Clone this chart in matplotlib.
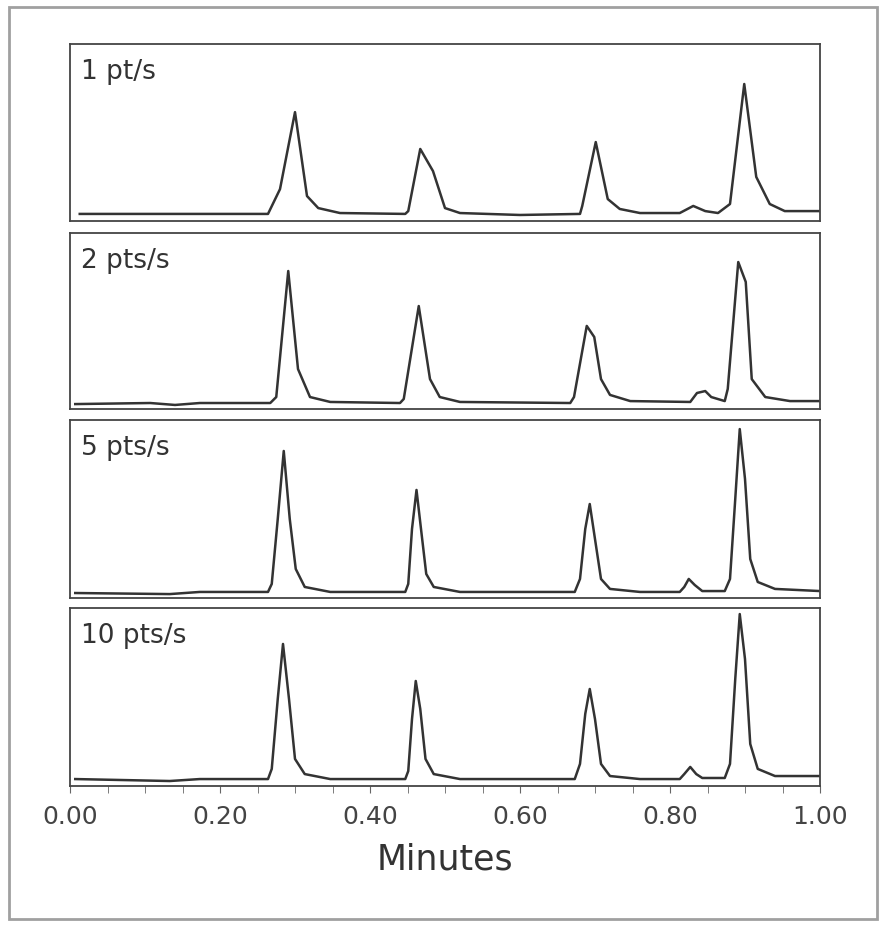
import matplotlib
matplotlib.use("Agg")
import matplotlib.pyplot as plt
from matplotlib.patches import Rectangle
from matplotlib.ticker import MultipleLocator

# Trace points (minutes, relative signal 0..1)
labels = ["1 pt/s", "2 pts/s", "5 pts/s", "10 pts/s"]

x1 = [0.013, 0.173, 0.264, 0.280, 0.300, 0.316, 0.331, 0.360, 0.447, 0.451,
      0.467, 0.484, 0.500, 0.520, 0.600, 0.680, 0.683, 0.701, 0.717, 0.733,
      0.760, 0.813, 0.831, 0.847, 0.864, 0.880, 0.899, 0.915, 0.933, 0.953, 1.0]
y1 = [0.040, 0.040, 0.040, 0.180, 0.615, 0.141, 0.073, 0.045, 0.040, 0.056,
      0.407, 0.282, 0.073, 0.045, 0.034, 0.040, 0.085, 0.446, 0.124, 0.068,
      0.045, 0.045, 0.085, 0.056, 0.045, 0.096, 0.774, 0.249, 0.096, 0.056, 0.056]

x2 = [0.007, 0.107, 0.140, 0.173, 0.267, 0.275, 0.291, 0.304, 0.320, 0.347,
      0.440, 0.445, 0.465, 0.480, 0.493, 0.520, 0.667, 0.672, 0.689, 0.699,
      0.708, 0.720, 0.747, 0.827, 0.836, 0.847, 0.855, 0.873, 0.877, 0.891,
      0.901, 0.909, 0.927, 0.960, 1.0]
y2 = [0.028, 0.034, 0.023, 0.034, 0.034, 0.068, 0.784, 0.227, 0.068, 0.040,
      0.034, 0.057, 0.585, 0.170, 0.068, 0.040, 0.034, 0.068, 0.472, 0.409,
      0.170, 0.080, 0.045, 0.040, 0.091, 0.102, 0.068, 0.045, 0.114, 0.835,
      0.722, 0.170, 0.068, 0.045, 0.045]

x3 = [0.007, 0.133, 0.173, 0.264, 0.269, 0.277, 0.285, 0.293, 0.301, 0.313,
      0.347, 0.447, 0.451, 0.456, 0.462, 0.468, 0.475, 0.485, 0.520, 0.673,
      0.680, 0.687, 0.693, 0.700, 0.708, 0.720, 0.760, 0.813, 0.819, 0.825,
      0.833, 0.843, 0.873, 0.880, 0.887, 0.893, 0.900, 0.907, 0.917, 0.940, 1.0]
y3 = [0.028, 0.022, 0.034, 0.034, 0.079, 0.444, 0.826, 0.444, 0.163, 0.062,
      0.034, 0.034, 0.079, 0.388, 0.607, 0.388, 0.135, 0.062, 0.034, 0.034,
      0.107, 0.388, 0.528, 0.331, 0.107, 0.051, 0.034, 0.034, 0.062, 0.107,
      0.073, 0.039, 0.039, 0.107, 0.556, 0.949, 0.669, 0.219, 0.090, 0.051, 0.039]

x4 = [0.007, 0.133, 0.173, 0.264, 0.269, 0.277, 0.284, 0.292, 0.300, 0.313,
      0.347, 0.447, 0.451, 0.456, 0.461, 0.467, 0.474, 0.485, 0.520, 0.673,
      0.680, 0.687, 0.693, 0.700, 0.708, 0.720, 0.760, 0.813, 0.819, 0.827,
      0.835, 0.843, 0.873, 0.880, 0.887, 0.893, 0.900, 0.907, 0.917, 0.940, 1.0]
y4 = [0.039, 0.028, 0.039, 0.039, 0.096, 0.489, 0.798, 0.489, 0.152, 0.067,
      0.039, 0.039, 0.084, 0.376, 0.590, 0.433, 0.152, 0.067, 0.039, 0.039,
      0.124, 0.405, 0.545, 0.376, 0.124, 0.056, 0.039, 0.039, 0.067, 0.107,
      0.067, 0.045, 0.045, 0.124, 0.601, 0.966, 0.713, 0.236, 0.096, 0.056, 0.056]

series = [(x1, y1), (x2, y2), (x3, y3), (x4, y4)]

fig = plt.figure(figsize=(8.86, 9.28), dpi=100)
fig.patches.append(Rectangle((9 / 886, 8 / 928), 868 / 886, 912 / 928,
                             transform=fig.transFigure, fill=False,
                             edgecolor="#a0a0a0", linewidth=2))

left, width = 70 / 886, 750 / 886
tops = [45, 234, 421, 609]
bottoms = [222, 410, 599, 787]
line_color = "#333333"

for i, (xs, ys) in enumerate(series):
    ax = fig.add_axes([left, 1 - bottoms[i] / 928, width,
                       (bottoms[i] - tops[i]) / 928])
    ax.plot(xs, ys, color=line_color, linewidth=1.8)
    ax.set_xlim(0, 1)
    ax.set_ylim(0, 1)
    ax.set_yticks([])
    for s in ax.spines.values():
        s.set_color("#444444")
        s.set_linewidth(1.3)
    ax.text(0.015, 0.92, labels[i], transform=ax.transAxes, fontsize=19,
            va="top", ha="left", color="#333333")
    if i < 3:
        ax.set_xticks([])
    else:
        ax.xaxis.set_major_locator(MultipleLocator(0.2))
        ax.xaxis.set_minor_locator(MultipleLocator(0.05))
        ax.xaxis.set_major_formatter(lambda v, p: "%.2f" % v)
        ax.tick_params(axis="x", which="both", length=5, color="#666666",
                       labelsize=18, labelcolor="#444444", pad=8)
        ax.set_xlabel("Minutes", fontsize=25, color="#333333", labelpad=10)

fig.savefig("out.png", dpi=100)
